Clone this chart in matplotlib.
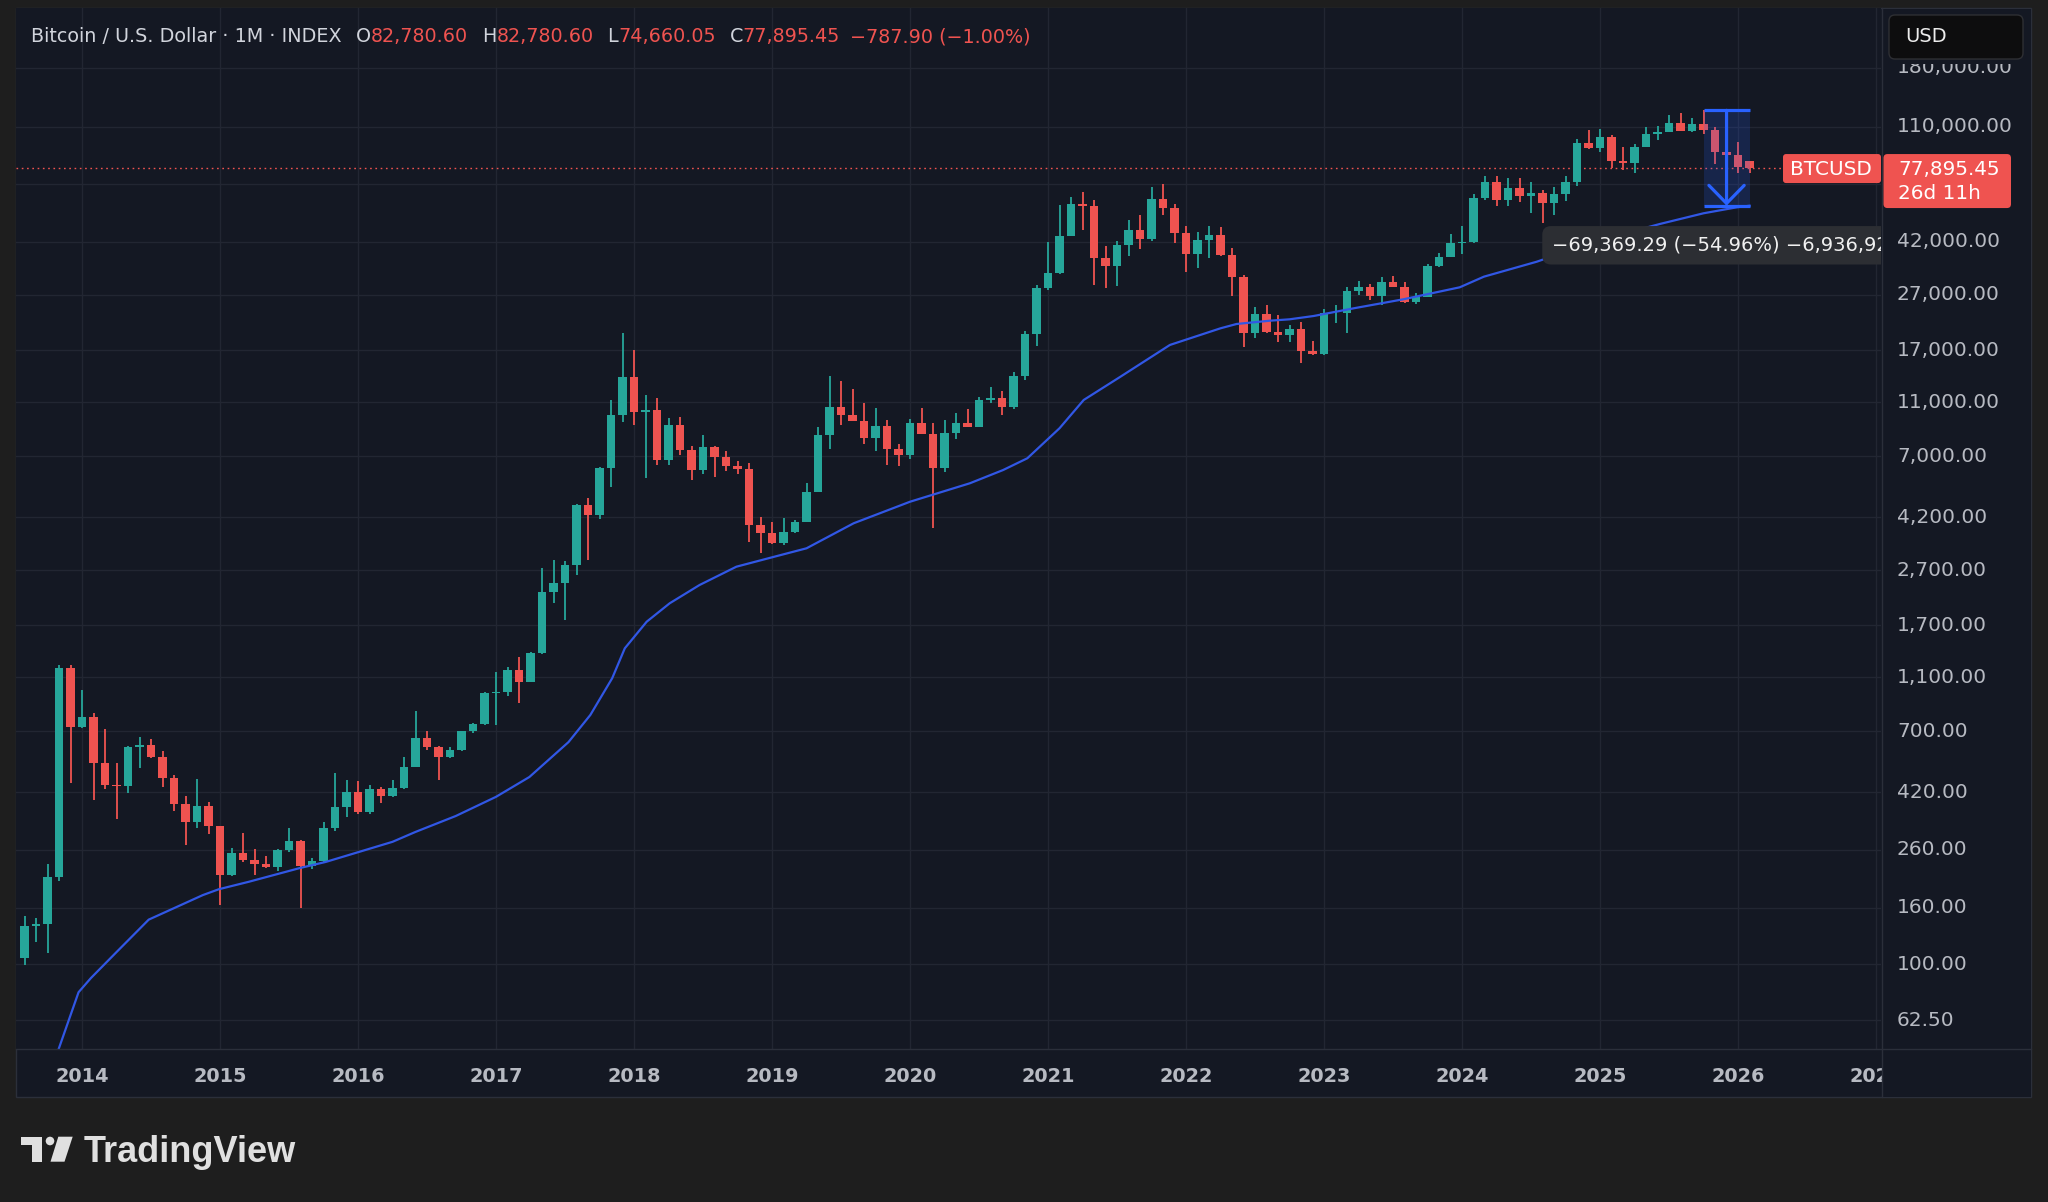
import matplotlib
matplotlib.use("Agg")
import matplotlib.pyplot as plt
import matplotlib.transforms as mtransforms
from matplotlib.patches import Rectangle, FancyBboxPatch, Polygon, Circle
from matplotlib.lines import Line2D
from matplotlib.ticker import NullLocator
import numpy as np

# monthly candles, Aug 2013 .. Feb 2026
opens = [105, 138, 140, 207, 1186,
         728, 792, 539, 447, 442, 616, 626, 567, 473, 381, 329, 375,
         316, 211, 253, 238, 231, 225, 260, 280, 227, 236, 311, 373,
         423, 358, 433, 408, 435, 521, 664, 613, 567, 600, 700, 742,
         963, 970, 1170, 1061, 1345, 2253, 2415, 2817, 4651, 4279, 6323, 9860,
         13600, 10150, 10300, 6780, 9080, 7368, 6233, 7575, 6933, 6463, 6300, 3936,
         3672, 3377, 3723, 4047, 5202, 8353, 10587, 9875, 9419, 8172, 9007, 7410,
         7067, 9211, 8400, 6322, 8519, 9262, 8960, 11194, 11416, 10529, 13685, 19444,
         28488, 32292, 44130, 57680, 56880, 36610, 34340, 40940, 46400, 42920, 60140, 55920,
         45380, 37850, 42680, 44500, 37500, 31410, 19550, 22990, 19710, 19280, 20220, 16910,
         16400, 23110, 23150, 27930, 28720, 26720, 30120, 28880, 25480, 26570, 34330, 37120,
         41500, 42080, 60470, 69500, 59630, 65740, 61660, 63050, 58320, 62700, 69500, 95790,
         92500, 100700, 82850, 81040, 93160, 103560, 105600, 113900, 106500, 112600, 107500, 89330,
         87000, 82780.60]
highs = [149, 147, 230, 1222, 1222,
         990, 819, 712, 539, 620, 670, 655, 594, 488, 408, 469, 389,
         318, 264, 300, 262, 247, 262, 311, 282, 242, 329, 496, 466,
         462, 447, 439, 466, 564, 828, 700, 620, 616, 705, 750, 975,
         1154, 1203, 1308, 1355, 2740, 2937, 2900, 4700, 4920, 6400, 11200, 19550,
         17000, 11670, 11400, 9600, 9735, 7600, 8353, 7650, 7300, 6700, 6600, 4200,
         4050, 4170, 4100, 5600, 8950, 13685, 13100, 12300, 10950, 10500, 9500, 7750,
         9580, 10500, 9200, 9450, 10080, 10400, 11450, 12470, 12070, 14100, 19900, 29300,
         41950, 57200, 60900, 63940, 59500, 40600, 42300, 50390, 52650, 66250, 68180, 57900,
         47900, 45800, 48060, 47400, 40000, 31900, 24290, 24790, 22700, 21000, 21450, 18400,
         23950, 24780, 28880, 30400, 29500, 31400, 31600, 30100, 27500, 35000, 38400, 44700,
         47970, 62700, 73000, 72700, 71950, 71950, 69500, 65000, 66500, 73000, 99600, 107100,
         108000, 102500, 93160, 95000, 110200, 110500, 121400, 123500, 117900, 126218, 110100, 94600,
         97140, 82780.60]
lows = [99, 120, 110, 200, 455,
        718, 394, 432, 337, 417, 517, 562, 439, 361, 271, 311, 298,
        164, 208, 235, 211, 224, 217, 256, 160, 222, 235, 305, 343,
        351, 352, 384, 405, 433, 521, 600, 466, 560, 595, 690, 738,
        739, 940, 886, 1055, 1340, 2044, 1777, 2590, 2937, 4150, 5420, 9340,
        9080, 5815, 6500, 6500, 7070, 5735, 6050, 5895, 6200, 6050, 3421, 3105,
        3350, 3330, 3690, 4040, 5180, 7450, 9100, 9400, 7750, 7300, 6500, 6430,
        6850, 8500, 3827, 6150, 8100, 8900, 8950, 10900, 9850, 10400, 13200, 17600,
        28100, 32000, 44000, 46400, 29280, 28488, 29150, 37300, 39600, 42300, 52630, 41500,
        32700, 33900, 36610, 37200, 26700, 17390, 18800, 19600, 18150, 18200, 15300, 16250,
        16300, 21370, 19550, 26950, 25850, 24800, 28700, 25300, 24900, 26550, 34100, 37000,
        37960, 41730, 59500, 56600, 56550, 58400, 53330, 49060, 52550, 58900, 66800, 91000,
        89200, 78200, 76630, 74520, 93000, 98200, 105300, 105800, 105000, 103500, 80600, 84400,
        75000, 74660.05]
closes = [138, 140, 207, 1186, 728,
          792, 539, 447, 442, 616, 626, 567, 473, 381, 329, 375, 316,
          211, 253, 238, 231, 225, 260, 280, 227, 236, 311, 373, 423,
          358, 433, 408, 435, 521, 664, 613, 567, 600, 700, 742, 963,
          970, 1170, 1061, 1345, 2253, 2415, 2817, 4651, 4279, 6323, 9860, 13600,
          10150, 10300, 6780, 9080, 7368, 6233, 7575, 6933, 6463, 6300, 3936, 3672,
          3377, 3723, 4047, 5202, 8353, 10587, 9875, 9419, 8172, 9007, 7410, 7067,
          9211, 8400, 6322, 8519, 9262, 8960, 11194, 11416, 10529, 13685, 19444, 28488,
          32292, 44130, 57680, 56880, 36610, 34340, 40940, 46400, 42920, 60140, 55920, 45380,
          37850, 42680, 44500, 37500, 31410, 19550, 22990, 19710, 19280, 20220, 16910, 16400,
          23110, 23150, 27930, 28720, 26720, 30120, 28880, 25480, 26570, 34330, 37120, 41500,
          42080, 60470, 69500, 59630, 65740, 61660, 63050, 58320, 62700, 69500, 95790, 92500,
          100700, 82850, 81040, 93160, 103560, 105600, 113900, 106500, 112600, 107500, 89330, 87000,
          78683.35, 77895.45]

# moving average, read at points along the blue line (x = months since Aug 2013)
ma_month = [2.5, 2.96, 4.7, 5.78, 7.95, 10.8, 13.2, 15.5, 16.9, 19.5, 23.9, 26.2, 28.2,
            32.0, 34.0, 37.5, 41.0, 43.9, 47.3, 49.2, 51.1, 52.2, 54.1, 56.1, 58.7,
            61.9, 65.1, 68.0, 72.1, 77.0, 82.2, 85.1, 87.2, 90.0, 92.1, 95.3, 99.6,
            104.0, 105.4, 108.3, 110.0, 112.1, 115.6, 119.9, 124.8, 126.9, 131.5,
            134.6, 138.2, 142.2, 146.0, 148.9, 150.0]
ma_value = [44, 49, 79, 89, 110, 145, 161, 178, 187, 199, 223, 235, 249,
            278, 302, 345, 405, 478, 640, 803, 1092, 1403, 1752, 2044, 2382,
            2776, 3010, 3238, 3992, 4780, 5577, 6233, 6875, 8838, 11194, 13603, 17740,
            20390, 21140, 21730, 21980, 22600, 24110, 25990, 28730, 31400, 35590,
            39500, 44000, 48790, 53360, 56100, 56849]

# grid levels of the price scale; 68,000 sits under the last-price tag, so no label
price_ticks = [180000, 110000, 68000, 42000, 27000, 17000, 11000, 7000, 4200, 2700,
               1700, 1100, 700, 420, 260, 160, 100, 62.5]
price_labels = ["180,000.00", "110,000.00", "", "42,000.00", "27,000.00", "17,000.00",
                "11,000.00", "7,000.00", "4,200.00", "2,700.00", "1,700.00", "1,100.00",
                "700.00", "420.00", "260.00", "160.00", "100.00", "62.50"]
year_labels = ["2014", "2015", "2016", "2017", "2018", "2019", "2020",
               "2021", "2022", "2023", "2024", "2025", "2026", "2027"]

# price-range measurement (Oct 2025 high down to the MA), months 146..150
meas_start, meas_end = 146, 150
meas_high = 126218.00
meas_low = 56848.71

OUTER = '#1e1e1e'
PANEL = '#141823'
GRID = '#222632'
BORDER = '#2b2f3a'
TXT = '#d1d4dc'
AXIS_TXT = '#b7bac2'
RED = '#ef5350'
GREEN = '#26a69a'
MA_BLUE = '#3157e5'
BLUE = '#2962ff'
LABEL_BG = '#2c2e33'

W, H = 2048, 1202
ident = mtransforms.IdentityTransform()


def box(x0, y0, x1, y1):
    # pixel box measured from top-left -> figure fraction rect
    return [x0 / W, 1 - y1 / H, (x1 - x0) / W, (y1 - y0) / H]


def signed(v, nd):
    s = f"{abs(v):,.{nd}f}"
    return ("\u2212" if v < 0 else "") + s


fig = plt.figure(figsize=(W / 100, H / 100), dpi=100)
fig.patch.set_facecolor(OUTER)

# chart panel background (chart + both scales)
fig.add_artist(Rectangle((16, H - 1097), 2031 - 16, 1097 - 8, transform=ident,
                         facecolor=PANEL, edgecolor=BORDER, lw=1.0, zorder=-5))

ax = fig.add_axes(box(16, 8, 1881, 1049))
ax.set_facecolor(PANEL)
for sp in ax.spines.values():
    sp.set_visible(False)

x = np.arange(len(opens))
o = np.array(opens, dtype=float)
c = np.array(closes, dtype=float)
hi = np.array(highs, dtype=float)
lo = np.array(lows, dtype=float)
year_pos = [(int(y) - 2013) * 12 - 7 for y in year_labels]

ax.set_yscale('log')
ax.set_ylim(49.14, 297100)
ax.set_xlim(-0.74, 161.43)
ax.set_yticks(price_ticks)
ax.yaxis.set_minor_locator(NullLocator())
ax.tick_params(axis='y', left=False, labelleft=False)
ax.set_xticks(year_pos)
ax.set_xticklabels(year_labels, fontsize=13.9, fontweight='bold', color=AXIS_TXT)
ax.xaxis.set_minor_locator(NullLocator())
ax.tick_params(axis='x', length=0, pad=13)
ax.grid(True, color=GRID, lw=1.0)
ax.set_axisbelow(True)

# candles
up = c >= o
cols = np.where(up, GREEN, RED)
ax.vlines(x, lo, hi, colors=cols, lw=1.3, zorder=2)
ax.bar(x, np.abs(c - o), bottom=np.minimum(o, c), width=0.74, color=cols, lw=0, zorder=3)

# moving average
ax.plot(ma_month, ma_value, color=MA_BLUE, lw=1.6, zorder=4)

# last price dotted line
ax.axhline(c[-1], color=RED, lw=1.0, ls=(0, (1.2, 2.6)), zorder=1.5)

# measurement tool
ax.add_patch(Rectangle((meas_start, meas_low), meas_end - meas_start, meas_high - meas_low,
                       facecolor=BLUE, alpha=0.18, lw=0, zorder=5))
ax.hlines([meas_high, meas_low], meas_start, meas_end, color=BLUE, lw=2.3, zorder=6)
mid = (meas_start + meas_end) / 2
ax.annotate('', xy=(mid, meas_low), xytext=(mid, meas_high),
            arrowprops=dict(arrowstyle='->,head_length=1.3,head_width=1.27', color=BLUE,
                            lw=2.3, shrinkA=0, shrinkB=0, mutation_scale=10), zorder=6)
diff = meas_low - meas_high
meas_text = f"{signed(diff, 2)} ({signed(diff / meas_high * 100, 2)}%) {signed(diff * 100, 0)}"
ax.annotate(meas_text, xy=(mid, meas_low), xytext=(0, -28.5), textcoords='offset points',
            ha='center', va='center', fontsize=14, color='#f0f0f0', zorder=7,
            bbox=dict(boxstyle='round,pad=0.5,rounding_size=0.45', fc=LABEL_BG, ec='none'),
            clip_on=True, annotation_clip=False)

# cover the price-scale column (hides the clipped "2027")
fig.add_artist(Rectangle((1882.5, H - 1097), 2031 - 1882.5, 1097 - 8.5, transform=ident,
                         facecolor=PANEL, edgecolor='none', zorder=0.5))

# price scale
ax_p = fig.add_axes(box(1882, 8, 2031, 1049))
ax_p.set_yscale('log')
ax_p.set_ylim(ax.get_ylim())
ax_p.axis('off')
ax_p.set_zorder(1)
tr = mtransforms.blended_transform_factory(ax_p.transAxes, ax_p.transData)
for v, lab in zip(price_ticks, price_labels):
    if lab:
        ax_p.text(15 / 149, v, lab, transform=tr, ha='left', va='center',
                  fontsize=14.5, color=AXIS_TXT)

# borders between panes
fig.add_artist(Line2D([1882, 1882], [H - 1097, H - 8], transform=ident, color=BORDER, lw=1.0, zorder=2))
fig.add_artist(Line2D([16, 2031], [H - 1049, H - 1049], transform=ident, color=BORDER, lw=1.0, zorder=2))

# last price labels
cy = ax.transData.transform((0, c[-1]))[1]
fig.add_artist(FancyBboxPatch((1783, cy - 15), 98, 29, boxstyle='round,pad=0,rounding_size=3',
                              transform=ident, fc=RED, ec='none', zorder=10))
fig.text(1790, cy - 1, "BTCUSD", transform=ident, ha='left', va='center', fontsize=14.4,
         color='white', zorder=11)
fig.add_artist(FancyBboxPatch((1883.5, cy - 40), 127.5, 54, boxstyle='round,pad=0,rounding_size=4',
                              transform=ident, fc=RED, ec='none', zorder=10))
fig.text(1898, cy - 1, f"{c[-1]:,.2f}", transform=ident, ha='left', va='center', fontsize=14.4,
         color='white', zorder=11)
fig.text(1898, cy - 25, "26d 11h", transform=ident, ha='left', va='center', fontsize=14.4,
         color='white', zorder=11)

# currency box
fig.add_artist(Rectangle((1884, H - 64), 2030 - 1884, 55, transform=ident, fc=PANEL, ec='none', zorder=9))
fig.add_artist(FancyBboxPatch((1889, H - 59), 134, 44, boxstyle='round,pad=0,rounding_size=6',
                              transform=ident, fc='#0d0d0e', ec='#2e2f33', lw=1.0, zorder=10))
fig.text(1905, H - 37, "USD", transform=ident, ha='left', va='center', fontsize=14,
         color='#ececec', zorder=11)

# header legend
renderer = fig.canvas.get_renderer()
chg = c[-1] - c[-2]
pieces = [("Bitcoin / U.S. Dollar \u00b7 1M \u00b7 INDEX", TXT, 14),
          ("O", TXT, 0), (f"{o[-1]:,.2f}", RED, 14),
          ("H", TXT, 0), (f"{hi[-1]:,.2f}", RED, 14),
          ("L", TXT, 0), (f"{lo[-1]:,.2f}", RED, 14),
          ("C", TXT, 0), (f"{c[-1]:,.2f}", RED, 10),
          (f"{signed(chg, 2)} ({signed(chg / c[-2] * 100, 2)}%)", RED, 0)]
hx = 31
for s, col, gap in pieces:
    t = fig.text(hx, H - 37, s, transform=ident, ha='left', va='center', fontsize=13.8,
                 color=col, zorder=11)
    hx += t.get_window_extent(renderer).width + gap

# TradingView logo
logo = '#e0e0e0'
fig.add_artist(Polygon([(20.7, H - 1136.7), (41.7, H - 1136.7), (41.7, H - 1161.7),
                        (31.7, H - 1161.7), (31.7, H - 1145), (20.7, H - 1145)],
                       closed=True, transform=ident, fc=logo, ec='none'))
fig.add_artist(Circle((50, H - 1141), 4.3, transform=ident, fc=logo, ec='none'))
fig.add_artist(Polygon([(58.3, H - 1136.7), (72.7, H - 1136.7), (64.5, H - 1161.7), (50.5, H - 1161.7)],
                       closed=True, transform=ident, fc=logo, ec='none'))
fig.text(84, H - 1161.7, "TradingView", transform=ident, ha='left', va='baseline',
         fontsize=26, fontweight='bold', family='Liberation Sans', color=logo)

fig.savefig('out.png', dpi=100, facecolor=fig.get_facecolor())
